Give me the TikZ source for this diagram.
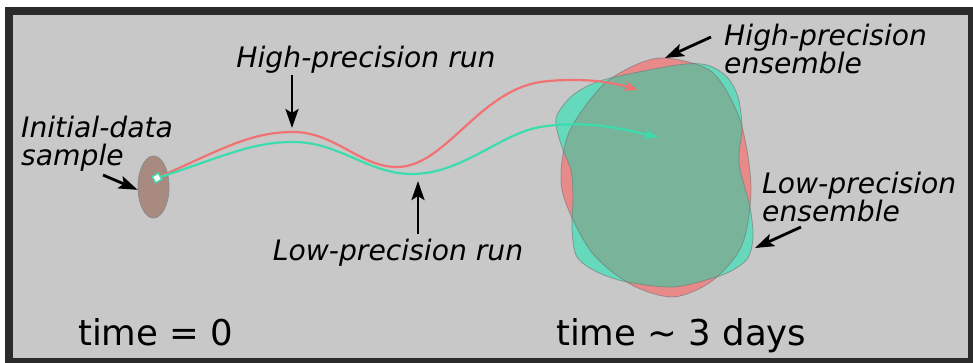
\documentclass[tikz,border=0pt]{standalone}
\usepackage{fontspec}
\setmainfont{DejaVu Sans}
\usetikzlibrary{arrows.meta,positioning,shapes.geometric}
\definecolor{bggray}{HTML}{C8C8C8}
\definecolor{framegray}{HTML}{2B2B2B}
\definecolor{hired}{HTML}{F07272}
\definecolor{loteal}{HTML}{3CDCAE}
\definecolor{hifill}{HTML}{E88A8A}
\definecolor{lofill}{HTML}{66D8BB}
\definecolor{bothfill}{HTML}{78B39A}
\definecolor{samplefill}{HTML}{A88A80}
\newcommand{\lblfont}{\fontsize{28.2}{28}\selectfont\itshape}
\newcommand{\timefont}{\fontsize{35.5}{36}\selectfont}

\begin{document}
\begin{tikzpicture}[x=1pt,y=-1pt,
    lbl/.style={inner sep=0pt, font=\lblfont, align=left},
    timelbl/.style={inner sep=0pt, font=\timefont},
    pointer/.style={line width=2.8pt, -{Stealth[length=19pt,width=13pt,inset=4pt]}},
    runline/.style={line width=2.2pt, -{Stealth[length=14pt,width=10pt]}},
    blobedge/.style={draw=black!55, draw opacity=0.6, line width=0.8pt},
    samplenode/.style={ellipse, draw=black!45, line width=0.8pt, fill=samplefill,
      minimum width=31pt, minimum height=62pt, inner sep=0pt},
    seedbox/.style={draw=loteal, fill=white, line width=1.4pt, minimum size=7pt,
      inner sep=0pt, rotate=30}]
  \useasboundingbox (0,0) rectangle (973,362);
  \draw[line width=8pt, draw=framegray, fill=bggray] (9,11) rectangle (972,362);

  \path[save path=\hipath] plot[smooth cycle] coordinates {
    (665,58) (712,72) (740,120) (751,187) (742,245) (712,281) (673,297)
    (630,284) (590,250) (562,190) (568,135) (600,88) (633,66)};
  \path[save path=\lopath] plot[smooth cycle] coordinates {
    (557,115) (573,95) (603,80) (677,65) (707,65) (727,77) (738,97) (742,127)
    (739,163) (750,207) (753,237) (748,258) (733,270) (713,278) (673,287)
    (627,282) (597,272) (577,257) (572,230) (573,197) (571,170) (563,150) (557,130)};
  \fill[hifill, use path=\hipath];
  \fill[lofill, use path=\lopath];
  \begin{scope}
    \clip[use path=\hipath];
    \fill[bothfill, use path=\lopath];
  \end{scope}
  \path[blobedge, use path=\hipath];
  \path[blobedge, use path=\lopath];

  \node[samplenode] (sample) at (153.5,187) {};
  \coordinate (seed) at (157,178);
  \coordinate (hiend) at (638,90);
  \coordinate (loend) at (658,137);
  \draw[runline, hired] (seed) .. controls (220,150) and (250,132) .. (293,132)
    .. controls (335,132) and (360,167) .. (397,167)
    .. controls (445,167) and (478,92) .. (540,82)
    .. controls (580,77) and (612,82) .. (hiend);
  \draw[runline, loteal] (seed) .. controls (220,158) and (250,142) .. (293,142)
    .. controls (340,142) and (368,174) .. (412,174)
    .. controls (462,174) and (500,134) .. (540,127)
    .. controls (590,119) and (630,131) .. (loend);
  \node[seedbox] at (seed) {};

  \node[lbl, anchor=north west] (samplelbl) at (21,116) {Initial-data\\sample};
  \node[lbl, anchor=base] (hirunlbl) at (366,67) {High-precision run};
  \node[lbl, anchor=base] (lorunlbl) at (398,260) {Low-precision run};
  \node[lbl, anchor=north west] (hienslbl) at (724,24) {High-precision\\ensemble};
  \node[lbl, anchor=north west] (loenslbl) at (762,172) {Low-precision\\ensemble};
  \node[timelbl, anchor=base west] (tzero) at (78,345) {time = 0};
  \node[timelbl, anchor=base west] (tdays) at (556,345) {time \textasciitilde{} 3 days};

  \coordinate (sampletail) at (103,175);
  \coordinate (hiruntail) at (292,75);
  \coordinate (hirunpeak) at (292,128);
  \coordinate (loruntail) at (418,234);
  \coordinate (lorundip) at (418,181);
  \coordinate (hienstail) at (711,37);
  \coordinate (hienstip) at (665,58);
  \coordinate (loenstail) at (801,227);
  \coordinate (loenstip) at (755,248);
  \draw[pointer] (sampletail) -- (sample.190);
  \draw[pointer] (hiruntail) -- (hirunpeak);
  \draw[pointer] (loruntail) -- (lorundip);
  \draw[pointer] (hienstail) -- (hienstip);
  \draw[pointer] (loenstail) -- (loenstip);
\end{tikzpicture}
\end{document}
